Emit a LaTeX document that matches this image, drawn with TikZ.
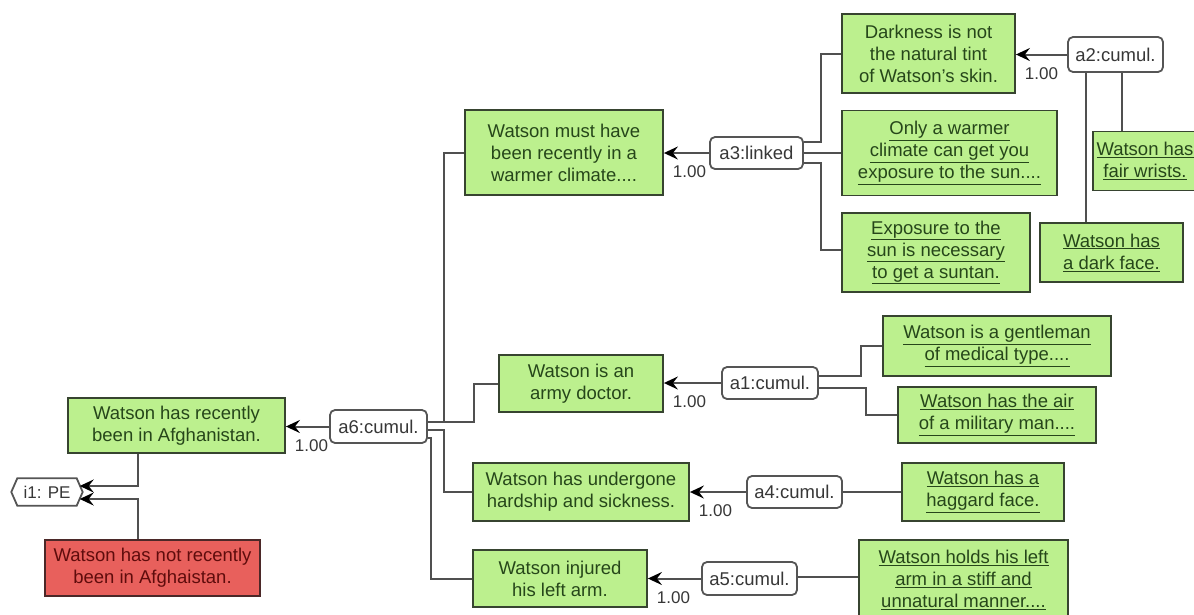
\documentclass[tikz,border=0pt]{standalone}
\usepackage{fontspec}
\setmainfont{Liberation Sans}
\usetikzlibrary{calc,arrows.meta}
\definecolor{clmfill}{RGB}{188,240,142}
\definecolor{clmborder}{RGB}{55,68,48}
\definecolor{clmtext}{RGB}{38,70,26}
\definecolor{redfill}{RGB}{232,96,92}
\definecolor{redtext}{RGB}{95,12,12}
\definecolor{redborder}{RGB}{75,40,40}
\definecolor{infborder}{RGB}{85,85,85}
\definecolor{inftext}{RGB}{55,55,55}
\definecolor{linecol}{RGB}{80,80,80}
\newcommand\ulx[1]{\underline{#1}}
\begin{document}
\begin{tikzpicture}[x=1pt,y=-1pt,
  sz/.style 2 args={minimum width=#1pt,minimum height=#2pt},
  claim/.style={rectangle,draw=clmborder,fill=clmfill,text=clmtext,line width=1.8pt,
    inner sep=0pt,align=center,font=\fontsize{18.5}{22}\selectfont},
  negclaim/.style={claim,draw=redborder,fill=redfill,text=redtext},
  infer/.style={rectangle,rounded corners=5pt,draw=infborder,fill=white,text=inftext,
    line width=1.8pt,inner sep=0pt,align=center,font=\fontsize{18.5}{22}\selectfont},
  conn/.style={draw=linecol,line width=2pt},
  arr/.style={conn,-{Stealth[length=14pt,width=13pt,inset=5pt,color=black]}},
  lbl/.style={anchor=north west,inner sep=0pt,text=inftext,xshift=8pt,yshift=-12pt,
    font=\fontsize{17}{20}\selectfont}]
\useasboundingbox (0,0) rectangle (1194,614);
% claims
\node[claim,sz={217}{55}] (afg) at (176.5,425.5) {Watson has recently\\been in Afghanistan.};
\node[negclaim,sz={215}{56}] (notafg) at (152.5,568) {Watson has not recently\\been in Afghaistan.};
\node[inner sep=0pt,sz={71}{27},text=inftext,font=\fontsize{17}{20}\selectfont] (i1) at (47,492) {i1: PE};
\draw[draw=infborder,line width=1.8pt,fill=white]
  (i1.west) -- ($(i1.north west)+(6,0)$) -- ($(i1.north east)+(-6,0)$) -- (i1.east)
  -- ($(i1.south east)+(-6,0)$) -- ($(i1.south west)+(6,0)$) -- cycle;
\node[inner sep=0pt,text=inftext,font=\fontsize{17}{20}\selectfont] at (i1) {i1: PE};
\node[infer,sz={97}{33}] (a6) at (378.5,426.5) {a6:cumul.};
\node[claim,sz={198}{85}] (must) at (564,152.5) {Watson must have\\been recently in a\\warmer climate....};
\node[infer,sz={93}{32}] (a3) at (756.5,153) {a3:linked};
\node[claim,sz={173}{79}] (dark) at (928.5,53.5) {Darkness is not\\the natural tint\\of Watson's skin.};
\node[infer,sz={95}{35}] (a2) at (1115.5,54.5) {a2:cumul.};
\node[claim,sz={215}{85}] (only) at (949.5,153) {\ulx{Only a warmer}\\\ulx{climate can get you}\\\ulx{exposure to the sun....}};
\node[claim,sz={188}{79}] (expo) at (936,252.5) {\ulx{Exposure to the}\\\ulx{sun is necessary}\\\ulx{to get a suntan.}};
\node[claim,sz={143}{59}] (darkface) at (1111.5,252.5) {\ulx{Watson has}\\\ulx{a dark face.}};
\node[claim,sz={104}{59}] (wrists) at (1145,161) {\ulx{Watson has}\\\ulx{fair wrists.}};
\node[claim,sz={164}{57}] (army) at (581,383.5) {Watson is an\\army doctor.};
\node[infer,sz={96}{32}] (a1) at (770,383) {a1:cumul.};
\node[claim,sz={228}{60}] (gent) at (997,346) {\ulx{Watson is a gentleman}\\\ulx{of medical type....}};
\node[claim,sz={198}{56}] (mil) at (997,415) {\ulx{Watson has the air}\\\ulx{of a military man....}};
\node[claim,sz={216}{58}] (hard) at (581,492) {Watson has undergone\\hardship and sickness.};
\node[infer,sz={95}{32}] (a4) at (794.5,492) {a4:cumul.};
\node[claim,sz={162}{58}] (hag) at (983,492) {\ulx{Watson has a}\\\ulx{haggard face.}};
\node[claim,sz={174}{57}] (inj) at (560,578.5) {Watson injured\\his left arm.};
\node[infer,sz={95}{33}] (a5) at (749.5,578.5) {a5:cumul.};
\node[claim,sz={209}{80}] (holds) at (963.5,580) {\ulx{Watson holds his left}\\\ulx{arm in a stiff and}\\\ulx{unnatural manner....}};
% inference arrows
\draw[arr] (a6.west) -- (a6.west -| afg.east) node[lbl]{1.00};
\draw[arr] (a3.west) -- (a3.west -| must.east) node[lbl]{1.00};
\draw[arr] (a2.west) -- (a2.west -| dark.east) node[lbl]{1.00};
\draw[arr] (a1.west) -- (a1.west -| army.east) node[lbl]{1.00};
\draw[arr] (a4.west) -- (a4.west -| hard.east) node[lbl]{1.00};
\draw[arr] (a5.west) -- (a5.west -| inj.east) node[lbl]{1.00};
% premises to a6
\draw[conn] (must.west) -- ++(-20,0) |- ($(a6.east)+(0,-5)$);
\draw[conn] (army.west) -- ++(-24,0) |- ($(a6.east)+(0,-5)$);
\draw[conn] (hard.west) -- ++(-28,0) |- ($(a6.east)+(0,3)$);
\draw[conn] (inj.west) -- ++(-41,0) |- ($(a6.east)+(0,11)$);
% premises to a3
\draw[conn] (dark.west) -- ++(-20,0) |- ($(a3.east)+(0,-11)$);
\draw[conn] (only.west) -- (only.west -| a3.east);
\draw[conn] ($(expo.west)+(0,-3)$) -- ++(-20,0) |- ($(a3.east)+(0,10)$);
% premises to a2
\draw[conn] ($(darkface.north west)+(47,0)$) coordinate (df) -- (df |- a2.south);
\draw[conn] ($(wrists.north west)+(30,0)$) coordinate (fw) -- (fw |- a2.south);
% premises to a1
\draw[conn] (gent.west) -- ++(-21,0) |- ($(a1.east)+(0,-7)$);
\draw[conn] (mil.west) -- ++(-31,0) |- ($(a1.east)+(0,5)$);
% premises to a4, a5
\draw[conn] (hag.west) -- (hag.west -| a4.east);
\draw[conn] ($(holds.west)+(0,-3)$) coordinate (hw) -- (hw -| a5.east);
% conflict
\draw[arr] ($(afg.south west)+(71,0)$) |- ($(i1.east)+(-3,-6)$);
\draw[arr] ($(notafg.north west)+(94,0)$) |- ($(i1.east)+(-3,7)$);
\end{tikzpicture}
\end{document}
